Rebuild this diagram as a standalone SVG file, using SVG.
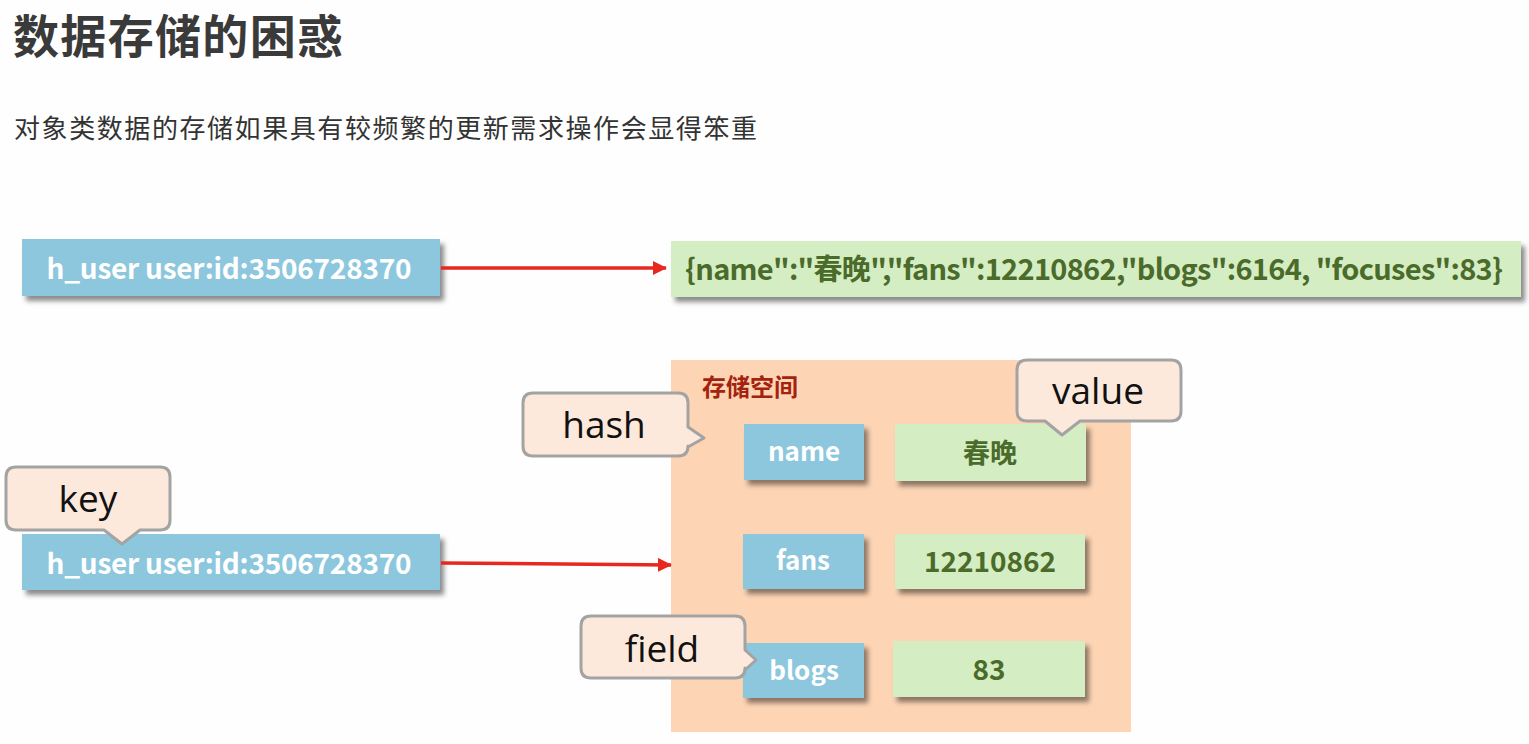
<svg xmlns="http://www.w3.org/2000/svg" width="1529" height="744" viewBox="0 0 1529 744">
<defs>
<filter id="sh" x="-10%" y="-20%" width="130%" height="160%">
<feDropShadow dx="4" dy="5" stdDeviation="2.5" flood-color="#000" flood-opacity="0.45"/>
</filter>
<marker id="arr" markerWidth="14" markerHeight="14" refX="13" refY="7" orient="auto" markerUnits="userSpaceOnUse" viewBox="0 0 14 14">
<path d="M0,0 L14,7 L0,14 z" fill="#E8281E"/>
</marker>
<style>
.title{font-family:"Noto Sans CJK SC",sans-serif;font-weight:700;font-size:46px;fill:#3a3a3a}
.sub{font-family:"Noto Sans CJK SC",sans-serif;font-size:26px;fill:#333}
.blue{fill:#8DC7DE;filter:url(#sh)}
.green{fill:#D5EDC3;filter:url(#sh)}
.bt{font-family:"Noto Sans CJK SC",sans-serif;font-weight:700;fill:#fff;text-anchor:middle}
.gt{font-family:"Noto Sans CJK SC",sans-serif;font-weight:700;fill:#4B6B2B;text-anchor:middle}
.call{fill:#FDE9DC;stroke:#A3A3A3;stroke-width:3;stroke-linejoin:round}
.ct{font-family:"Open Sans","Liberation Sans",sans-serif;font-size:37px;fill:#111;text-anchor:middle}
.conn{stroke:#E8281E;stroke-width:3.5;fill:none}
</style>
</defs>
<rect width="1529" height="744" fill="#FEFEFE"/>
<text class="title" x="13" y="53" textLength="330">数据存储的困惑</text>
<text class="sub" x="14" y="138" textLength="743">对象类数据的存储如果具有较频繁的更新需求操作会显得笨重</text>

<g id="storage">
<rect x="671" y="360" width="460" height="372" fill="#FDD4B4"/>
<text x="702" y="396" font-family="Noto Sans CJK SC,sans-serif" font-weight="700" font-size="24" fill="#A3230F">存储空间</text>
</g>

<g id="key1">
<rect class="blue" x="22" y="239" width="418" height="57"/>
<text class="bt" x="229" y="279" font-size="28" textLength="365">h_user user:id:3506728370</text>
</g>
<g id="json">
<rect class="green" x="671" y="241" width="850" height="56"/>
<text class="gt" x="1094" y="280" font-size="29" textLength="818">{name":"春晚","fans":12210862,"blogs":6164, "focuses":83}</text>
</g>
<g id="key2">
<rect class="blue" x="22" y="534" width="418" height="56"/>
<text class="bt" x="229" y="574" font-size="28" textLength="365">h_user user:id:3506728370</text>
</g>

<g id="f-name"><rect class="blue" x="744" y="424" width="120" height="56"/><text class="bt" x="804" y="461" font-size="26">name</text></g>
<g id="v-name"><rect class="green" x="895" y="424" width="191" height="57"/><text class="gt" x="990" y="463" font-size="27">春晚</text></g>
<g id="f-fans"><rect class="blue" x="743" y="534" width="121" height="55"/><text class="bt" x="803" y="570" font-size="26">fans</text></g>
<g id="v-fans"><rect class="green" x="895" y="534" width="190" height="55"/><text class="gt" x="990" y="572" font-size="28">12210862</text></g>
<g id="f-blogs"><rect class="blue" x="743" y="643" width="121" height="55"/><text class="bt" x="804" y="680" font-size="26">blogs</text></g>
<g id="v-blogs"><rect class="green" x="893" y="641" width="192" height="56"/><text class="gt" x="989" y="680" font-size="28">83</text></g>

<g id="connectors">
<line class="conn" x1="441" y1="268" x2="666" y2="268" marker-end="url(#arr)"/>
<line class="conn" x1="441" y1="563" x2="671" y2="565" marker-end="url(#arr)"/>
</g>

<g id="c-hash">
<path class="call" d="M533,393 H678 Q688,393 688,403 V427 L704,438 L688,447 V446 Q688,456 678,456 H533 Q523,456 523,446 V403 Q523,393 533,393 Z"/>
<text class="ct" x="604" y="438">hash</text>
</g>
<g id="c-value">
<path class="call" d="M1027,360 H1171 Q1181,360 1181,370 V411 Q1181,421 1171,421 H1080 L1062,435 L1045,421 H1027 Q1017,421 1017,411 V370 Q1017,360 1027,360 Z"/>
<text class="ct" x="1098" y="404">value</text>
</g>
<g id="c-key">
<path class="call" d="M16,467 H160 Q170,467 170,477 V520 Q170,530 160,530 H140 L122,544 L104,530 H16 Q6,530 6,520 V477 Q6,467 16,467 Z"/>
<text class="ct" x="88" y="512">key</text>
</g>
<g id="c-field">
<path class="call" d="M591,616 H735 Q745,616 745,626 V650 L756,660 L745,670 V668 Q745,678 735,678 H591 Q581,678 581,668 V626 Q581,616 591,616 Z"/>
<text class="ct" x="662" y="662">field</text>
</g>
</svg>
